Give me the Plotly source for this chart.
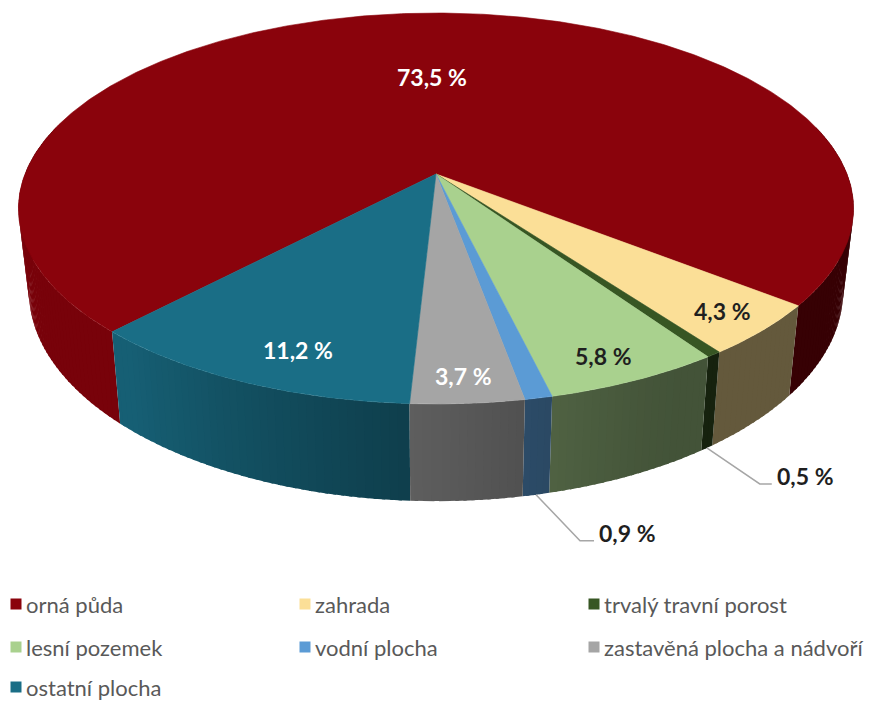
import numpy as np
import plotly.graph_objects as go

# ---------------- data ----------------
categories = ["orná půda", "zahrada", "trvalý travní porost", "lesní pozemek",
              "vodní plocha", "zastavěná plocha a nádvoří", "ostatní plocha"]
values = [73.5, 4.3, 0.5, 5.8, 0.9, 3.7, 11.2]
colors = ["#8A030C", "#FBDF97", "#375623", "#A9D18E", "#5B9BD5", "#A5A5A5", "#1A6E86"]
label_texts = [f"{v:.1f}".replace(".", ",") + " %" for v in values]

# ---------------- geometry / style (not data) ----------------
W, Hgt = 874, 704
CX, CY = 436.0, 174.0          # pie apex in pixel space
A, B, C = 411.0, 189.4, -0.1765  # perspective projection params
DEPTH = 80.0                   # side height
BOTTOM_SHRINK = 0.975
START = 133.4                  # start angle (deg) of first slice

inside = [True, True, False, True, False, True, True]
label_r = [0.565, 0.89, None, 0.90, None, 0.90, 0.86]
label_nudge = [(11, 0), (0, 0), None, (-8, 0), None, (0, 0), (24, 2)]
label_dark = [False, True, True, True, True, False, False]
leader_off = {2: ((53, 36), (65, 36)), 4: ((44, 46), (58, 46))}


def proj(phi, r=1.0, bottom=False):
    t = np.radians(phi)
    X = r * np.cos(t)
    Z = r * np.sin(t)
    w = 1 + C * Z
    sx = A * (BOTTOM_SHRINK if bottom else 1.0)
    x = CX + sx * X / w
    y = CY + B * Z / w + (DEPTH / w if bottom else 0.0)
    return x, y


def shade(hexcol, f):
    h = hexcol.lstrip("#")
    r, g, b = (int(h[i:i + 2], 16) for i in (0, 2, 4))
    return f"rgb({int(r * f)},{int(g * f)},{int(b * f)})"


def side_factor(phi):
    pm = ((phi + 180) % 360) - 180
    s = min(max((pm - 60) / 70.0, 0.0), 1.0) ** 1.3
    return 0.40 + 0.47 * s


total = sum(values)
spans = [v / total * 360.0 for v in values]
bounds = []
a0 = START
for sp in spans:
    bounds.append((a0, a0 + sp))
    a0 += sp

fig = go.Figure()

# ---------------- side strips ----------------
strips = []
for i, (s, e) in enumerate(bounds):
    for lo, hi in ((-15, 195), (345, 555)):
        a, b_ = max(s, lo), min(e, hi)
        if b_ <= a:
            continue
        n = max(1, int(np.ceil((b_ - a) / 1.0)))
        edges = np.linspace(a, b_, n + 1)
        for k in range(n):
            p1, p2 = edges[k], edges[k + 1]
            mid = 0.5 * (p1 + p2)
            # small overlap towards the slice end, avoids seams
            p2o = min(p2 + 0.4, b_)
            strips.append((np.sin(np.radians(mid)), i, p1, p2o, mid))
strips.sort(key=lambda t: t[0])
for z, i, p1, p2, mid in strips:
    x1, y1 = proj(p1)
    x2, y2 = proj(p2)
    x3, y3 = proj(p2, bottom=True)
    x4, y4 = proj(p1, bottom=True)
    col = shade(colors[i], side_factor(mid))
    fig.add_trace(go.Scatter(x=[x1, x2, x3, x4, x1], y=[y1, y2, y3, y4, y1],
                             mode="lines", fill="toself", fillcolor=col,
                             line=dict(color=col, width=0),
                             hoverinfo="skip", showlegend=False))

# ---------------- top face ----------------
for i, (s, e) in enumerate(bounds):
    n = max(2, int(np.ceil((e - s) / 0.5)))
    ph = np.linspace(s, e, n + 1)
    xs, ys = proj(ph)
    xs = np.concatenate([[CX], xs, [CX]])
    ys = np.concatenate([[CY], ys, [CY]])
    fig.add_trace(go.Scatter(x=xs, y=ys, mode="lines", fill="toself",
                             fillcolor=colors[i], line=dict(color=colors[i], width=0.6),
                             hoverinfo="skip", showlegend=False))

# ---------------- labels ----------------
annotations = []
for i, (s, e) in enumerate(bounds):
    mid = 0.5 * (s + e)
    fc = "#1F1F1F" if label_dark[i] else "#FFFFFF"
    if inside[i]:
        x, y = proj(mid, r=label_r[i])
        dx, dy = label_nudge[i]
        annotations.append(dict(x=x + dx, y=y + dy, text=f"<b>{label_texts[i]}</b>",
                                showarrow=False, xanchor="center", yanchor="middle",
                                font=dict(family="Lato", size=23, color=fc)))
    else:
        bx, by = proj(mid, bottom=True)
        (ex, ey), (fx, fy) = leader_off[i]
        fig.add_trace(go.Scatter(x=[bx, bx + ex, bx + fx], y=[by, by + ey, by + fy],
                                 mode="lines", line=dict(color="#A6A6A6", width=1.5),
                                 hoverinfo="skip", showlegend=False))
        annotations.append(dict(x=bx + fx + 3, y=by + fy - 8, text=f"<b>{label_texts[i]}</b>",
                                showarrow=False, xanchor="left", yanchor="middle",
                                font=dict(family="Lato", size=23, color=fc)))

# ---------------- legend (manual grid) ----------------
col_x = [16, 305, 594]
row_y = [604, 647, 687]
lx, ly = [], []
for i, cat in enumerate(categories):
    cx_ = col_x[i % 3]
    cy_ = row_y[i // 3]
    lx.append(cx_)
    ly.append(cy_)
    annotations.append(dict(x=cx_ + 8, y=cy_, text=cat, showarrow=False,
                            xanchor="left", yanchor="middle",
                            font=dict(family="Lato", size=22, color="#595959")))
fig.add_trace(go.Scatter(x=lx, y=ly, mode="markers",
                         marker=dict(symbol="square", size=11, color=colors,
                                     line=dict(width=0)),
                         hoverinfo="skip", showlegend=False))

fig.update_layout(
    width=W, height=Hgt,
    margin=dict(l=0, r=0, t=0, b=0),
    paper_bgcolor="white", plot_bgcolor="white",
    xaxis=dict(range=[0, W], visible=False, fixedrange=True),
    yaxis=dict(range=[Hgt, 0], visible=False, fixedrange=True),
    annotations=annotations,
    showlegend=False,
    hovermode=False,
)

fig.write_html(
    "out.html",
    config={"displayModeBar": False},
    post_script="document.body.style.margin='0';"
                "document.documentElement.style.overflow='hidden';",
)
